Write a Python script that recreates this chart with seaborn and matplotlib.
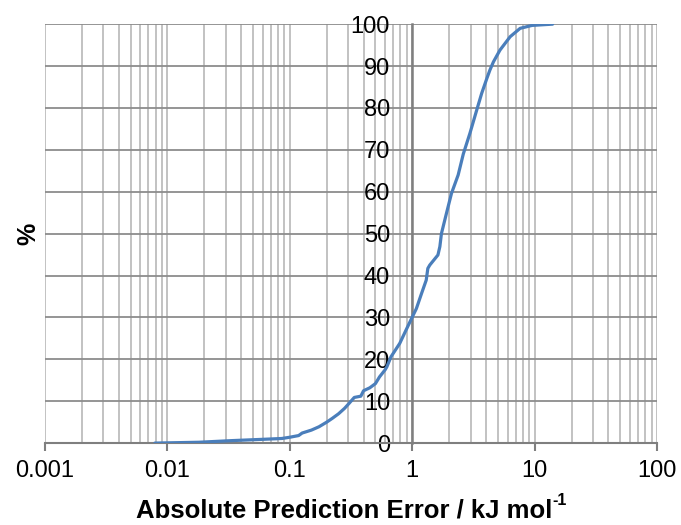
import numpy as np
import pandas as pd
import matplotlib
matplotlib.use("Agg")
import matplotlib.pyplot as plt
from matplotlib.ticker import LogLocator, FixedLocator, NullFormatter
import seaborn as sns

# Cumulative distribution of absolute prediction errors
error_kj = [0.0079, 0.018, 0.034, 0.06, 0.086, 0.1, 0.118, 0.126, 0.15, 0.173,
            0.2, 0.222, 0.25, 0.28, 0.305, 0.336, 0.38, 0.40, 0.45, 0.50,
            0.54, 0.60, 0.62, 0.67, 0.79, 0.89, 1.0, 1.08, 1.19, 1.30,
            1.34, 1.39, 1.62, 1.68, 1.73, 1.90, 2.09, 2.37, 2.61, 2.96,
            3.36, 3.69, 4.06, 4.3, 4.6, 5.2, 6.3, 7.6, 9.5, 14.0]
percent = [0.0, 0.2, 0.6, 0.9, 1.1, 1.4, 1.8, 2.4, 3.1, 3.9,
           5.0, 5.9, 7.0, 8.3, 9.5, 10.9, 11.2, 12.5, 13.2, 14.2,
           15.8, 17.5, 18.2, 20.6, 23.8, 27.0, 30.1, 32.1, 35.7, 38.9,
           41.7, 42.5, 44.9, 46.9, 50.0, 54.8, 59.6, 64.0, 69.0, 74.0,
           79.5, 83.5, 87.0, 89.0, 91.0, 93.8, 97.0, 99.0, 99.7, 100.0]
x_ticks = [0.001, 0.01, 0.1, 1, 10, 100]
x_tick_labels = ["0.001", "0.01", "0.1", "1", "10", "100"]
y_ticks = [0, 10, 20, 30, 40, 50, 60, 70, 80, 90, 100]

df = pd.DataFrame({"error": error_kj, "pct": percent})

sns.set_theme(style="white")
plt.rcParams["font.family"] = ["Liberation Sans", "DejaVu Sans"]
plt.rcParams["text.color"] = "black"

fig = plt.figure(figsize=(6.81, 5.25), dpi=100)
ax = fig.add_axes([0.066, 0.156, 0.899, 0.798])

sns.lineplot(data=df, x="error", y="pct", ax=ax, color="#4a7ebb",
             linewidth=2.3, sort=False, zorder=5)

ax.set_xscale("log")
ax.set_xlim(0.001, 100)
ax.set_ylim(0, 100)

# gridlines: minor/major verticals light, horizontals darker
ax.xaxis.set_major_locator(FixedLocator(x_ticks))
ax.set_xticklabels(x_tick_labels)
ax.xaxis.set_minor_locator(LogLocator(base=10, subs=np.arange(2, 10)))
ax.xaxis.set_minor_formatter(NullFormatter())
ax.set_yticks(y_ticks)
ax.grid(True, which="major", axis="x", color="#bdbdbd", linewidth=1.3, zorder=0)
ax.grid(True, which="minor", axis="x", color="#bdbdbd", linewidth=1.3, zorder=0)
ax.grid(True, which="major", axis="y", color="#8c8c8c", linewidth=1.3, zorder=0)
ax.set_axisbelow(True)

# y axis crosses at x = 1
for side in ("top", "right"):
    ax.spines[side].set_visible(False)
ax.spines["left"].set_position(("data", 1))
ax.spines["left"].set_color("#7f7f7f")
ax.spines["left"].set_linewidth(1.8)
ax.spines["bottom"].set_color("#7f7f7f")
ax.spines["bottom"].set_linewidth(1.5)

ax.tick_params(axis="y", which="both", length=0, pad=16, labelsize=17,
               labelcolor="black")
ax.tick_params(axis="x", which="major", length=6, width=1.5, color="#7f7f7f",
               direction="out", pad=6, labelsize=17, labelcolor="black",
               bottom=True)
ax.tick_params(axis="x", which="minor", length=0)

ax.set_xlabel("")
ax.set_ylabel("")

# x-axis title with a raised "-1" exponent
title = fig.text(0.505, 0.015, "Absolute Prediction Error / kJ mol",
                 fontsize=18.5, fontweight="bold", ha="center", va="baseline",
                 color="black")
fig.canvas.draw()
bb = title.get_window_extent(fig.canvas.get_renderer())
fig.text(bb.x1 / fig.bbox.width + 0.001, 0.015 + 0.024, "-1",
         fontsize=11.5, fontweight="bold", ha="left", va="baseline",
         color="black")

fig.text(0.041, 0.555, "%", rotation=90, fontsize=18, fontweight="bold",
         ha="center", va="center", color="black")

fig.savefig("out.png", dpi=100)
